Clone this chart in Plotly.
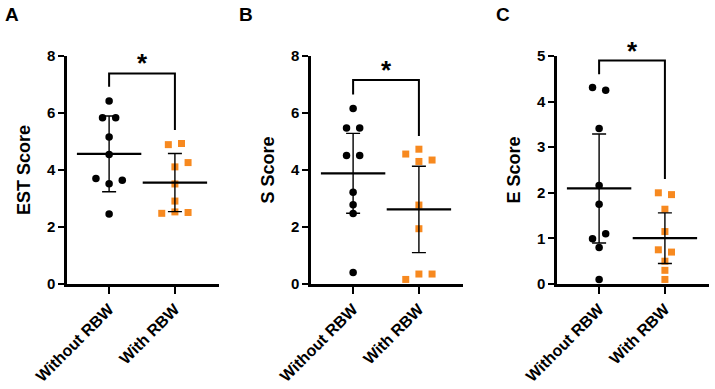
import plotly.graph_objects as go

groups = ["Without RBW", "With RBW"]
panel_letters = ["A", "B", "C"]
y_titles = ["EST Score", "S Score", "E Score"]
y_max = [8, 8, 5]
y_dtick = [2, 2, 1]

# Panel A (EST)
a_without = [6.42, 5.83, 5.83, 5.16, 4.54, 3.70, 3.64, 3.52, 2.46]
a_without_jit = [0, -1, 1, 0, 0, -2, 2, 0, 0]
a_with = [4.89, 4.93, 4.26, 4.11, 3.51, 2.91, 2.48, 2.53, 2.51]
a_with_jit = [-1, 1, 2, 0, 0, 0, -2, 0, 2]
# Panel B (S)
b_without = [6.16, 5.47, 5.47, 4.51, 4.51, 3.22, 2.78, 2.47, 0.40]
b_without_jit = [0, -1, 1, -1, 1, 0, 0, 0, 0]
b_with = [4.56, 4.73, 4.30, 4.35, 2.77, 1.94, 0.16, 0.35, 0.35]
b_with_jit = [-2, 0, 0, 2, 0, 0, -2, 0, 2]
# Panel C (E)
c_without = [4.31, 4.25, 3.41, 2.16, 1.75, 0.99, 1.10, 0.80, 0.10]
c_without_jit = [-1, 1, 0, 0, 0, -1, 1, 0, 0]
c_with = [2.00, 1.96, 1.64, 1.15, 0.75, 0.70, 0.50, 0.30, 0.10]
c_with_jit = [-1, 1, 0, 0, -1, 1, 0, 0, 0]

# mean and SD per panel: [without, with]
means = [[4.565, 3.56], [3.885, 2.615], [2.095, 1.005]]
sds = [[1.33, 1.02], [1.40, 1.515], [1.195, 0.555]]

# significance brackets: top, left leg end, right leg end, star
bracket_top = [7.39, 7.16, 4.90]
bracket_left = [6.92, 6.65, 4.60]
bracket_right = [5.40, 5.19, 2.30]
star_text = ["*", "*", "*"]

panel_data = [
    (a_without, a_without_jit, a_with, a_with_jit),
    (b_without, b_without_jit, b_with, b_with_jit),
    (c_without, c_without_jit, c_with, c_with_jit),
]

W, H = 715, 389
FONT = "Liberation Sans, Arial, sans-serif"
ORANGE = "#F7891F"
JIT = 0.1

x_px = [(67, 219), (311, 463), (557, 709)]
y_dom = [1 - 284 / H, 1 - 56 / H]
letter_px = [(12, 14), (246, 14), (503, 14)]

fig = go.Figure()

for i in range(3):
    xa = "x" if i == 0 else f"x{i+1}"
    ya = "y" if i == 0 else f"y{i+1}"
    wo, wo_j, wi, wi_j = panel_data[i]
    fig.add_trace(go.Scatter(
        x=[0 + JIT * j for j in wo_j], y=wo, mode="markers", xaxis=xa, yaxis=ya,
        marker=dict(symbol="circle", size=7.5, color="black"), cliponaxis=False,
        showlegend=False))
    fig.add_trace(go.Scatter(
        x=[1 + JIT * j for j in wi_j], y=wi, mode="markers", xaxis=xa, yaxis=ya,
        marker=dict(symbol="square", size=7, color=ORANGE), cliponaxis=False,
        showlegend=False))
    # mean + SD
    fig.add_trace(go.Scatter(
        x=[0, 1], y=means[i], mode="markers", xaxis=xa, yaxis=ya,
        marker=dict(symbol="line-ew", size=46, line=dict(width=2.2, color="black")),
        error_y=dict(type="data", array=sds[i], width=7, thickness=1.4, color="black"),
        cliponaxis=False, showlegend=False))
    # bracket
    fig.add_trace(go.Scatter(
        x=[0, 0, 1, 1], y=[bracket_left[i], bracket_top[i], bracket_top[i], bracket_right[i]],
        mode="lines", xaxis=xa, yaxis=ya, line=dict(color="black", width=2),
        cliponaxis=False, showlegend=False))
    fig.add_annotation(x=0.5, y=bracket_top[i], xref=xa, yref=ya, text=star_text[i],
                       showarrow=False, yanchor="bottom", yshift=-7,
                       font=dict(family=FONT, size=26, color="black", weight="bold"))
    # panel letter
    lx, ly = letter_px[i]
    fig.add_annotation(x=lx / W, y=1 - ly / H, xref="paper", yref="paper",
                       text=panel_letters[i], showarrow=False,
                       xanchor="center", yanchor="middle",
                       font=dict(family=FONT, size=19, color="black", weight="bold"))

    x0, x1 = x_px[i]
    xkey = "xaxis" if i == 0 else f"xaxis{i+1}"
    ykey = "yaxis" if i == 0 else f"yaxis{i+1}"
    fig.update_layout(**{
        xkey: dict(domain=[x0 / W, x1 / W], range=[-0.64, 1.67], anchor=ya,
                   tickvals=[0, 1], ticktext=groups, tickangle=-45, automargin=False,
                   showline=True, linewidth=2.5, linecolor="black",
                   ticks="outside", ticklen=7, tickwidth=2, tickcolor="black",
                   showgrid=False, zeroline=False,
                   tickfont=dict(family=FONT, size=16, color="black", weight="bold")),
        ykey: dict(domain=y_dom, range=[0, y_max[i]], anchor=xa, dtick=y_dtick[i],
                   automargin=False,
                   showline=True, linewidth=2.5, linecolor="black",
                   ticks="outside", ticklen=6, tickwidth=2, tickcolor="black",
                   showgrid=False, zeroline=False,
                   tickfont=dict(family=FONT, size=15, color="black", weight="bold"),
                   title=dict(text=y_titles[i], standoff=12,
                              font=dict(family=FONT, size=18, color="black", weight="bold"))),
    })

fig.update_layout(width=W, height=H, margin=dict(l=0, r=0, t=0, b=0),
                  plot_bgcolor="white", paper_bgcolor="white")
fig.write_html("out.html")
